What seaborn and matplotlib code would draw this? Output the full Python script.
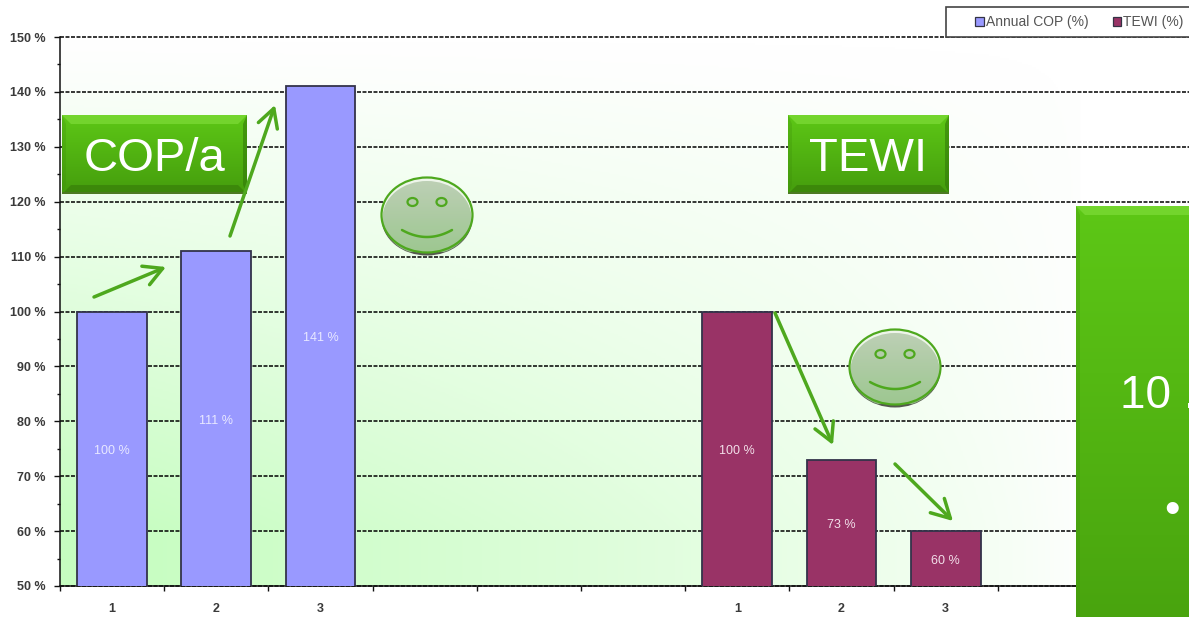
import numpy as np
import pandas as pd
import matplotlib
matplotlib.use("Agg")
import matplotlib.pyplot as plt
from matplotlib.colors import LinearSegmentedColormap
from matplotlib.patches import Ellipse, Polygon, Rectangle
import seaborn as sns

# Chart values
cop_slots = [0, 1, 2]
cop_values = [100, 111, 141]
tewi_slots = [6, 7, 8]
tewi_values = [100, 73, 60]
slot_labels = ["1", "2", "3", "", "", "", "1", "2", "3", ""]
series_names = ["Annual COP (%)", "TEWI (%)"]
series_colors = ["#9999ff", "#993366"]

FONT = "Liberation Sans"
W, H = 1189, 617

sns.set_theme(style="white")
plt.rcParams["font.family"] = [FONT, "DejaVu Sans"]

df = pd.DataFrame({
    "slot": cop_slots + tewi_slots,
    "value": cop_values + tewi_values,
    "series": [series_names[0]] * 3 + [series_names[1]] * 3,
})

fig = plt.figure(figsize=(W / 100, H / 100), dpi=100, facecolor="white")
ax = fig.add_axes([60 / W, 1 - 586 / H, (W - 60) / W, 549 / H])

sns.barplot(
    data=df, x="slot", y="value", hue="series",
    order=list(range(10)), hue_order=series_names, palette=series_colors,
    dodge=False, width=0.67, saturation=1, ax=ax, zorder=3,
    edgecolor="#33334a", linewidth=1.3, errorbar=None,
)
handles, labels = ax.get_legend_handles_labels()
ax.get_legend().remove()

# Soft green wash behind the plot, strongest in the lower left corner
yy, xx = np.mgrid[0:1:300j, 0:1:600j]
fade_x = np.clip(1 - xx * 1129 / 1020, 0, 1) ** 0.8
fade_y = np.clip(yy * 549 / 494, 0, 1) ** 1.1
wash = fade_x * fade_y + 0.03 * (yy > 0.1) * (xx * 1129 < 1020)
wash_cmap = LinearSegmentedColormap.from_list("wash", ["#ffffff", "#c6fdc0"])
ax.imshow(wash, extent=(-0.5, 10.335, 50, 150), origin="upper", aspect="auto",
          cmap=wash_cmap, vmin=0, vmax=1, zorder=0, interpolation="bilinear")

ax.set_xlim(-0.5, 10.335)
ax.set_ylim(50, 150)
ax.set_xlabel("")
ax.set_ylabel("")

# Axes, ticks and grid
ax.set_yticks(np.arange(50, 151, 10))
ax.set_yticks(np.arange(55, 150, 10), minor=True)
ax.set_yticklabels([f"{v} %" for v in range(50, 151, 10)])
ax.set_xticks(np.arange(-0.5, 10, 1))
ax.set_xticklabels([])
ax.set_xticks(np.arange(0, 10), minor=True)
ax.set_xticklabels(slot_labels, minor=True)
ax.tick_params(axis="y", which="major", length=4, width=1, color="#111111", pad=6.5,
               left=True, labelsize=9, labelcolor="#3a3a3a")
ax.tick_params(axis="y", which="minor", length=2.5, width=1, color="#111111", left=True)
ax.tick_params(axis="x", which="major", length=3.5, width=1, color="#111111", bottom=True)
ax.tick_params(axis="x", which="minor", length=0, pad=12.5, labelsize=9, labelcolor="#3a3a3a")
for lab in ax.get_yticklabels() + ax.get_xticklabels(minor=True):
    lab.set_fontweight("bold")
ax.grid(axis="y", which="major", color="black", linestyle=(0, (2.6, 1)), linewidth=1.1, zorder=1)
for line in ax.get_ygridlines():
    line.set_clip_on(False)
ax.set_axisbelow(True)
for side in ("top", "right"):
    ax.spines[side].set_visible(False)
for side in ("left", "bottom"):
    ax.spines[side].set_color("#111111")
    ax.spines[side].set_linewidth(1.1)

# Value labels centred in the visible part of each bar
for slots, values, color in ((cop_slots, cop_values, "#e8e8ff"), (tewi_slots, tewi_values, "#f2dfe9")):
    for s, v in zip(slots, values):
        ax.annotate(f"{v} %", (s, (50 + v) / 2), xytext=(0, -1.5), textcoords="offset points",
                    color=color, ha="center", va="center", fontsize=9, zorder=4)

# Overlay in pixel units for the callouts
ov = fig.add_axes([0, 0, 1, 1], facecolor="none")
ov.set_xlim(0, W)
ov.set_ylim(H, 0)
ov.axis("off")

GREEN = "#4ea81e"


def vgrad(x0, y0, x1, y1, top, bottom, zorder=5):
    cmap = LinearSegmentedColormap.from_list("g", [top, bottom])
    return ov.imshow(np.linspace(0, 1, 128)[:, None], extent=(x0, x1, y1, y0), cmap=cmap,
                     aspect="auto", zorder=zorder, interpolation="bilinear")


def bevel_box(x0, y0, x1, y1, b=9, bb=9):
    vgrad(x0, y0, x1, y1, "#5dc716", "#459d0d")
    ov.add_patch(Polygon([(x0, y0), (x1, y0), (x1 - b, y0 + b), (x0 + b, y0 + b)],
                         fc="#78d832", ec="none", alpha=0.85, zorder=6))
    ov.add_patch(Polygon([(x0, y0), (x0 + 4, y0 + b), (x0 + 4, y1 - bb), (x0, y1)],
                         fc="#3c8a0a", ec="none", alpha=0.25, zorder=6))
    ov.add_patch(Polygon([(x1, y0), (x1 - 4, y0 + b), (x1 - 4, y1 - bb), (x1, y1)],
                         fc="#2f7408", ec="none", alpha=0.55, zorder=6))
    ov.add_patch(Polygon([(x0, y1), (x0 + b, y1 - bb), (x1 - b, y1 - bb), (x1, y1)],
                         fc="#387f0a", ec="none", alpha=0.7, zorder=6))
    ov.add_patch(Rectangle((x0, y1 - 2.5), x1 - x0, 2.5, fc="#4c7a22", ec="none", zorder=6))


def smiley(cx, cy):
    rx, ry = 45.5, 37.5
    ov.add_patch(Ellipse((cx, cy + 3), 2 * rx, 2 * ry, fc="#55584f", ec="none", zorder=6))
    ov.add_patch(Ellipse((cx, cy), 2 * rx, 2 * ry, fc="#eef5ea", ec="none", zorder=6.5))
    img = vgrad(cx - rx, cy - ry, cx + rx, cy + ry, "#b8cbb0", "#92c184", zorder=7)
    img.set_alpha(0.88)
    img.set_clip_path(Ellipse((cx, cy + 3), 2 * rx - 2, 2 * ry - 1, transform=ov.transData))
    ov.add_patch(Ellipse((cx, cy), 2 * rx, 2 * ry, fc="none", ec=GREEN, lw=1.6, zorder=8))
    for dx in (-14.5, 14.5):
        ov.add_patch(Ellipse((cx + dx, cy - 13), 10, 8, fc="none", ec=GREEN, lw=1.6, zorder=8))
    # Mouth: shallow curve opening upwards
    t = np.linspace(-1, 1, 40)
    ov.plot(cx + 25 * t, cy + 22 - 7 * t ** 2, color=GREEN, lw=1.8, zorder=8, solid_capstyle="round")


# Legend strip in the top right corner
ov.add_patch(Rectangle((946, 7), 300, 30, fc="white", ec="#444444", lw=1.2, zorder=4))
leg = ov.legend(handles, labels, ncols=2, loc="center left", frameon=False,
                bbox_to_anchor=(975, 22), bbox_transform=ov.transData,
                borderaxespad=0, borderpad=0, handlelength=0.62, handleheight=0.62,
                handletextpad=0.15, columnspacing=1.75, fontsize=10,
                labelcolor="#555555")
leg.set_zorder(5)
for h in leg.legend_handles:
    h.set_edgecolor("#333344")
    h.set_linewidth(0.9)

# Title boxes
bevel_box(62, 115, 247, 194)
ov.text(154.5, 159, "COP/a", color="white", fontsize=34, ha="center", va="center", zorder=9)
bevel_box(788, 115, 949, 194)
ov.text(868.5, 159, "TEWI", color="white", fontsize=34, ha="center", va="center", zorder=9)

# Side panel running off the edge of the canvas
bevel_box(1076, 206, 1260, 700)
ov.text(1120, 396, "10 .", color="white", fontsize=33, ha="left", va="center", zorder=9)
ov.text(1172, 511, "\u2022", color="white", fontsize=32, ha="center", va="center", zorder=9)

smiley(427, 215)
smiley(895, 367)

# Trend arrows
for start, end in (((94, 297), (166, 267)), ((230, 236), (275, 105)),
                   ((775, 313), (833, 445)), ((895, 464), (953, 521))):
    ov.annotate("", xy=end, xytext=start, zorder=9,
                arrowprops=dict(arrowstyle="->,head_length=1.1,head_width=0.6", color=GREEN,
                                lw=2.5, shrinkA=0, shrinkB=0))

ov.set_xlim(0, W)
ov.set_ylim(H, 0)

fig.savefig("out.png", dpi=100)
